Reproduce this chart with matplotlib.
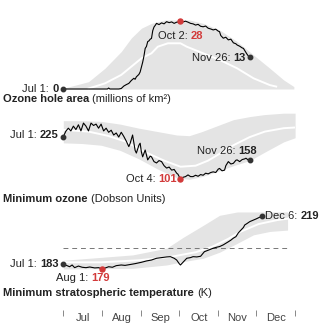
import matplotlib.pyplot as plt
from matplotlib.transforms import IdentityTransform

plt.rcParams['font.family'] = ['Liberation Sans', 'DejaVu Sans']

RED = '#d23a3a'
BAND = '#e4e4e4'
DARK = '#222222'
FS = 8

# days counted from Jul 1
months = ['Jul', 'Aug', 'Sep', 'Oct', 'Nov', 'Dec']
month_starts = [0, 31, 62, 92, 123, 153, 184]

# --- ozone hole area (millions of km2) ---
area_days = [0, 4, 8, 12, 16, 20, 24, 28, 32, 35, 36, 37, 40, 44, 46, 48, 50, 52, 54, 56, 57, 58,
             60, 61, 62, 63, 64, 65, 66, 67, 68, 69, 70, 71, 72, 73, 74, 76, 78, 80, 82, 84, 86, 88,
             90, 92, 93, 95, 97, 99, 101, 103, 105, 107, 109, 111, 113, 115, 117, 119, 121, 123,
             124, 125, 127, 129, 131, 133, 135, 137, 138, 140, 142, 143, 145, 146, 147, 148]
area_vals = [0, 0, 0, 0, 0, 0, 0, 0, 0, 0, 0.4, 0, 0, 0, 0.2, 1.2, 1.8, 2.3, 3.5, 4.4, 4.0, 5.0,
             6.0, 7.0, 9.0, 11.0, 13.5, 16.7, 17.5, 19.5, 19.8, 20.5, 20.8, 24.0, 25.5, 26.2, 27.0,
             26.5, 27.2, 26.8, 27.7, 27.3, 27.6, 27.0, 27.5, 27.6, 28.0, 27.6, 27.9, 27.5, 27.0,
             26.8, 26.3, 26.6, 25.8, 25.6, 25.9, 25.0, 24.7, 24.3, 24.6, 23.8, 23.6, 22.0, 20.9,
             21.3, 20.2, 20.5, 19.0, 18.6, 18.1, 17.6, 16.9, 16.7, 15.0, 14.2, 13.5, 13.0]
area_band_days = [0, 20, 33, 46, 54, 62, 70, 81, 100, 111, 124, 138, 151, 164, 175, 183]
area_band_top = [0.3, 3, 8.5, 15.4, 21, 25, 27, 28.4, 28.4, 27, 24.3, 19.5, 14, 8.5, 3.7, 1]
area_mean_days = [20, 33, 46, 54, 62, 70, 75, 83, 93, 98, 111, 124, 138, 151, 164, 169]
area_mean = [0.2, 2.3, 5.8, 9.2, 12.6, 14.7, 17.4, 18.8, 18.8, 17.4, 14.7, 12, 8.5, 4.4, 1.6, 1]

# --- minimum ozone (Dobson units) ---
ozone_days = [0, 2, 4, 6, 8, 10, 12, 14, 16, 18, 20, 22, 24, 26, 28, 30, 32, 34, 36, 38, 40, 42,
              44, 46, 48, 50, 52, 53, 55, 57, 58, 60, 61, 62, 63, 64, 65, 67, 69, 70, 72, 74, 76,
              78, 80, 82, 84, 86, 88, 90, 91, 93, 95, 97, 99, 101, 103, 105, 107, 109, 111, 113,
              115, 117, 119, 121, 123, 124, 126, 128, 129, 131, 133, 135, 137, 138, 140, 142, 144,
              145, 147, 148]
ozone_vals = [225, 241, 250, 242, 256, 246, 260, 242, 265, 256, 242, 265, 258, 262, 250, 262, 242,
              250, 238, 244, 230, 236, 224, 238, 226, 212, 196, 205, 230, 185, 177, 200, 206, 180,
              166, 176, 186, 157, 168, 166, 152, 148, 155, 152, 140, 133, 136, 127, 129, 118, 115,
              101, 106, 108, 113, 108, 108, 112, 109, 114, 112, 118, 116, 120, 122, 120, 130, 132,
              125, 127, 140, 152, 145, 147, 156, 157, 152, 158, 160, 162, 156, 158]
ozone_band_days = [0, 15, 30, 45, 60, 75, 90, 100, 110, 120, 135, 148, 160, 175, 184]
ozone_band_top = [272, 272, 270, 262, 250, 240, 230, 228, 240, 254, 275, 284, 290, 294, 294]
ozone_band_low = [207, 205, 200, 185, 160, 130, 105, 100, 108, 120, 140, 155, 180, 210, 222]
ozone_mean_days = [0, 20, 35, 50, 65, 80, 93, 105, 115, 125, 135, 148, 160, 175, 184]
ozone_mean = [245, 240, 228, 210, 180, 155, 137, 140, 155, 177, 200, 224, 240, 250, 252]

# --- minimum stratospheric temperature (K) ---
temp_days = [0, 3, 5, 7, 9, 12, 15, 18, 21, 25, 28, 31, 34, 36, 39, 42, 46, 49, 54, 57, 62, 66,
             70, 74, 78, 82, 85, 88, 90, 92, 93, 95, 98, 101, 103, 106, 109, 112, 115, 119, 122,
             124, 127, 131, 133, 135, 137, 139, 141, 143, 144, 146, 148, 151, 153, 155, 158]
temp_vals = [183, 182, 181.2, 182.5, 180.5, 181.7, 180.8, 180.5, 181, 180.3, 180.5, 179.5, 180.5,
             181.2, 180.8, 182, 182.5, 182.2, 183, 183.5, 184.5, 185.5, 186.2, 187.5, 188, 188.5,
             188.7, 187.5, 186.2, 183.5, 182.5, 184.5, 187.5, 188, 188.7, 188.5, 189, 192.4, 193.5,
             195, 195.8, 196.2, 197.5, 199.8, 201, 202.5, 203.6, 206.5, 208.5, 210.5, 212.3, 213.5,
             214.8, 216, 216.8, 217.7, 219]
temp_band_days = [0, 55, 82, 95, 111, 124, 138, 151, 164, 178]
temp_band_top = [186, 190, 195, 203, 212, 219.5, 222, 222, 222, 222]
temp_band_low = [179.5, 180, 182.5, 185, 187.5, 192, 198.6, 205, 207.5, 208.5]
temp_mean_days = [0, 30, 60, 85, 105, 118, 131, 140, 155, 170, 178]
temp_mean = [184.5, 184.5, 186, 188.5, 192, 196, 202, 207, 213, 216, 217]
psc_limit = 195

fig = plt.figure(figsize=(3.27, 3.27), dpi=100)
W = H = 327.0
r = fig.canvas.get_renderer()


def panel(top, bottom, ylim):
    ax = fig.add_axes([63.3 / W, 1 - bottom / H, (295.1 - 63.3) / W, (bottom - top) / H])
    ax.set_xlim(0, 184)
    ax.set_ylim(*ylim)
    ax.axis('off')
    return ax


def rich(x, y, parts, ha='left'):
    # parts: (text, bold, color, gap before in px); x, y in display pixels
    texts = []
    for s, bold, color, gap in parts:
        t = fig.text(0, 0, s, transform=IdentityTransform(), va='center', fontsize=FS,
                     fontweight='bold' if bold else 'normal', color=color)
        texts.append((t, gap))
    widths = [t.get_window_extent(r).width + g for t, g in texts]
    total = sum(widths)
    start = {'left': x, 'right': x - total, 'center': x - total / 2}[ha]
    for (t, g), w in zip(texts, widths):
        t.set_position((start + g, y))
        start += w


def label(ax, day, val, date, num, color, dx, dy, ha):
    x, y = ax.transData.transform((day, val))
    rich(x + dx, y + dy, [(date + ':', False, DARK, 0), (num, True, color, 2.8)], ha)


def title(ytop, bold, rest):
    rich(3.3, H - ytop, [(bold, True, DARK, 0), (rest, False, DARK, 2.8)])


def ends(ax, days, vals, hi_day, hi_val):
    ax.plot([days[0], days[-1]], [vals[0], vals[-1]], 'o', color='#333333', ms=3.2, clip_on=False)
    ax.plot([hi_day], [hi_val], 'o', color=RED, ms=3.6, clip_on=False)


# panel 1
ax1 = panel(10, 95, (-2.47, 32.5))
ax1.fill_between(area_band_days, 0, area_band_top, color=BAND, lw=0)
ax1.plot(area_mean_days, area_mean, color='white', lw=1.4)
ax1.plot(area_days, area_vals, color='black', lw=0.8, clip_on=False)
ends(ax1, area_days, area_vals, 93, 28.0)
label(ax1, 0, 0, 'Jul 1', '0', DARK, -5, 0, 'right')
label(ax1, 93, 28, 'Oct 2', '28', RED, 0, -14.7, 'center')
label(ax1, 148, 13, 'Nov 26', '13', DARK, -4.5, -0.3, 'right')
title(99, 'Ozone hole area', '(millions of km\u00b2)')

# panel 2
ax2 = panel(108, 185, (83.4, 309.2))
ax2.fill_between(ozone_band_days, ozone_band_low, ozone_band_top, color=BAND, lw=0)
ax2.plot(ozone_mean_days, ozone_mean, color='white', lw=1.4)
ax2.plot(ozone_days, ozone_vals, color='black', lw=0.8, clip_on=False)
ends(ax2, ozone_days, ozone_vals, 93, 101)
label(ax2, 0, 225, 'Jul 1', '225', DARK, -5, 1.5, 'right')
label(ax2, 93, 101, 'Oct 4', '101', RED, -3.5, 0, 'right')
label(ax2, 148, 158, 'Nov 26', '158', DARK, 7, 8.6, 'right')
title(199, 'Minimum ozone', '(Dobson Units)')

# panel 3
ax3 = panel(205, 278, (172.8, 227.2))
ax3.fill_between(temp_band_days, temp_band_low, temp_band_top, color=BAND, lw=0)
ax3.plot(temp_mean_days, temp_mean, color='white', lw=1.4)
ax3.hlines(psc_limit, 0, 178, color='#777777', lw=0.7, linestyles=(0, (5, 4)))
ax3.plot(temp_days, temp_vals, color='black', lw=0.8, clip_on=False)
ends(ax3, temp_days, temp_vals, 31, 179.5)
label(ax3, 0, 183, 'Jul 1', '183', DARK, -5, 0, 'right')
label(ax3, 31, 179.5, 'Aug 1', '179', RED, 7.6, -8.7, 'right')
label(ax3, 158, 219, 'Dec 6', '219', DARK, 3, 0, 'left')
title(293, 'Minimum stratospheric temperature', '(K)')

# month scale
ax4 = panel(310, 325, (0, 1))
ax4.vlines(month_starts, 0.62, 1.0, color='#888888', lw=0.7, clip_on=False)
for i, m in enumerate(months):
    ax4.text((month_starts[i] + month_starts[i + 1]) / 2, 0.45, m, ha='center', va='center',
             fontsize=FS, color='#444444')

plt.savefig('out.png', dpi=100)
